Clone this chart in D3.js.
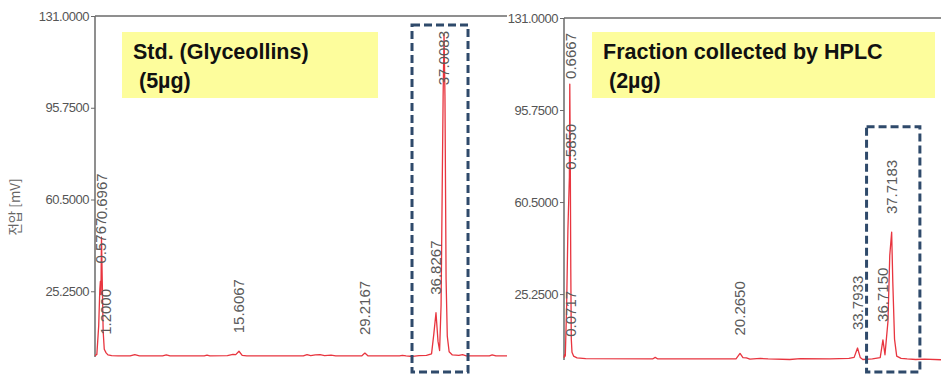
<!DOCTYPE html>
<html>
<head>
<meta charset="utf-8">
<script src="https://cdn.jsdelivr.net/npm/d3@7"></script>
<style>
  html, body { margin: 0; padding: 0; background: #fff; }
  svg { display: block; }
</style>
</head>
<body>
<svg id="chart" width="941" height="375"></svg>
<script>
// ---------- data ----------
const yTicks = [25.25, 60.5, 95.75, 131.0];
const yLabel = "전압 [mV]";

// Left chromatogram: Std. (Glyceollins) (5µg)
const titleL = ["Std. (Glyceollins)", " (5µg)"];
const timeL = [0.00,0.20,0.40,0.52,0.58,0.64,0.70,0.78,0.88,1.00,1.20,1.40,1.80,2.50,3.80,4.30,4.80,7.30,7.70,8.10,
  11.8,12.1,12.4,14.3,14.9,15.2,15.55,15.9,16.4,22.5,22.9,23.3,23.8,24.3,24.8,25.5,26.0,28.8,29.15,29.5,
  32.9,33.2,33.6,34.3,35.0,35.8,36.35,36.6,36.83,37.05,37.22,37.38,37.5,37.6,37.7,37.8,37.92,38.05,38.25,38.6,
  39.3,39.7,40.1,41.0,42.6,42.9,43.3,44.5];
const valueL = [0.5,1.0,12,26,29,24,46,30,10,3,1.6,0.8,0.5,0.4,0.4,0.9,0.4,0.4,0.8,0.4,
  0.4,0.7,0.4,0.5,1.0,0.9,2.2,0.6,0.4,0.4,0.9,0.5,0.8,0.9,0.5,0.7,0.4,0.4,1.5,0.4,
  0.4,0.6,0.4,0.2,0.5,0.6,1.2,9,17,6,2.5,20,64,100,124,100,30,8,2,0.8,
  0.6,0.9,0.4,0.4,0.4,0.8,0.4,0.4];
const peakLabelL = ["0.5767","0.6967","1.2000","15.6067","29.2167","36.8267","37.0083"];
const peakTimeL  = [0.58, 0.70, 1.20, 15.55, 29.15, 36.83, 37.7];
const peakValueL = [29, 46, 1.6, 2.2, 1.5, 17, 124];
const boxTimeL = [34.24, 40.29];
const boxValueL = [-5.8, 127.5];

// Right chromatogram: Fraction collected by HPLC (2µg)
const titleR = ["Fraction collected by HPLC", " (2µg)"];
const timeR = [0.00,0.07,0.15,0.30,0.45,0.585,0.62,0.6667,0.72,0.78,0.84,0.92,1.1,1.5,2.5,10.2,10.5,10.8,19.8,20.265,
  20.6,21.0,21.4,22.6,23.5,26.0,27.2,30.6,32.8,33.4,33.79,34.1,34.4,35.5,36.4,36.715,36.95,37.3,37.5,37.72,
  37.85,38.05,38.3,38.8,39.5,40.5,41.5,43.4];
const valueR = [0.8,2.0,1.5,20,50,66,70,105.7,80,35,8,3,1.5,0.8,0.5,0.4,1.0,0.4,0.4,2.5,
  0.9,0.8,0.3,0.6,0.4,0.2,0.5,0.4,0.6,1.0,4.6,1.0,0.2,0.4,0.9,7.7,2.0,15,40,49,
  30,8,1.5,0.6,0.4,0.2,0.3,0.1];
const peakLabelR = ["0.0717","0.5850","0.6667","20.2650","33.7933","36.7150","37.7183"];
const peakTimeR  = [0.0717, 0.585, 0.6667, 20.265, 33.7933, 36.715, 37.7183];
const peakValueR = [2, 66, 105.7, 2.5, 4.6, 7.7, 49];
const boxTimeR = [34.83, 40.97];
const boxValueR = [-4.6, 89.3];

// ---------- drawing ----------
const svg = d3.select("#chart");
svg.append("rect").attr("width", 941).attr("height", 375).attr("fill", "#fff");

const panels = [
  { title: titleL, t: timeL, v: valueL, pl: peakLabelL, pt: peakTimeL, pv: peakValueL, bt: boxTimeL, bv: boxValueL,
    x0: 95, x1: 507, xMax: 44.5, yTop: 16, yBot: 357, yBox: [122, 378], labelClampX: 6 },
  { title: titleR, t: timeR, v: valueR, pl: peakLabelR, pt: peakTimeR, pv: peakValueR, bt: boxTimeR, bv: boxValueR,
    x0: 564, x1: 941, xMax: 43.4, yTop: 18, yBot: 360, yBox: [592, 935], labelClampX: 7 }
];

const tickFont = "'Liberation Sans', Arial, sans-serif";

panels.forEach((p, i) => {
  const x = d3.scaleLinear().domain([0, p.xMax]).range([p.x0, p.x1]);
  const y = d3.scaleLinear().domain([0, 131]).range([p.yBot, p.yTop]);
  const g = svg.append("g");

  // top border line
  g.append("line")
    .attr("x1", p.x0).attr("x2", p.x1)
    .attr("y1", p.yTop).attr("y2", p.yTop)
    .attr("stroke", "#6a6a6a").attr("stroke-width", 1.5);

  // y axis
  const ax = d3.axisLeft(y).tickValues(yTicks).tickFormat(d3.format(".4f")).tickSize(4).tickPadding(2);
  const axG = g.append("g").attr("transform", `translate(${p.x0},0)`).call(ax);
  axG.select(".domain").attr("stroke", "#6a6a6a").attr("stroke-width", 1.5)
    .attr("d", `M-0,${p.yTop}V${p.yBot}`);
  axG.selectAll(".tick line").attr("stroke", "#6a6a6a");
  axG.selectAll(".tick text")
    .attr("fill", "#555").attr("font-family", tickFont).attr("font-size", 13)
    .attr("letter-spacing", "-0.5px");

  // yellow title box
  g.append("rect")
    .attr("x", p.yBox[0]).attr("y", 32)
    .attr("width", p.yBox[1] - p.yBox[0]).attr("height", 66)
    .attr("fill", "#fdfd9c");
  const tt = g.append("text")
    .attr("font-family", "Arial, 'Liberation Sans', sans-serif")
    .attr("font-weight", "bold").attr("font-size", 21.5).attr("fill", "#111")
    .attr("xml:space", "preserve").style("white-space", "pre");
  tt.append("tspan").attr("x", p.yBox[0] + 11).attr("y", 59).text(p.title[0]);
  tt.append("tspan").attr("x", p.yBox[0] + 11).attr("y", 88).text(p.title[1]);

  // trace
  const pts = p.t.map((t, k) => [t, p.v[k]]);
  g.append("path")
    .datum(pts)
    .attr("fill", "none")
    .attr("stroke", "#e8353f")
    .attr("stroke-width", 1.3)
    .attr("stroke-linejoin", "round")
    .attr("d", d3.line().x(d => x(d[0])).y(d => y(d[1])));

  // peak labels
  p.pl.forEach((lab, k) => {
    const px = Math.max(x(p.pt[k]), p.x0 + p.labelClampX);
    const t = g.append("text")
      .attr("font-family", tickFont).attr("font-size", 15).attr("fill", "#5a5a5a")
      .attr("dy", "0.35em")
      .text(lab);
    const len = t.node().getComputedTextLength();
    let yb = y(p.pv[k]) - 18;
    if (yb - len < p.yTop + 15) yb = p.yTop + 15 + len;
    t.attr("transform", `translate(${px},${yb}) rotate(-90)`);
  });

  // dashed highlight box
  g.append("rect")
    .attr("x", x(p.bt[0])).attr("y", y(p.bv[1]))
    .attr("width", x(p.bt[1]) - x(p.bt[0]))
    .attr("height", y(p.bv[0]) - y(p.bv[1]))
    .attr("fill", "none")
    .attr("stroke", "#2f4a6b").attr("stroke-width", 3)
    .attr("stroke-dasharray", "8,4");
});

// y axis title (left panel only)
svg.append("text")
  .attr("transform", "translate(15,207) rotate(-90)")
  .attr("text-anchor", "middle").attr("dy", "0.35em")
  .attr("font-family", "'Noto Sans CJK KR', sans-serif")
  .attr("font-size", 13.5).attr("fill", "#666")
  .text(yLabel);
</script>
</body>
</html>
